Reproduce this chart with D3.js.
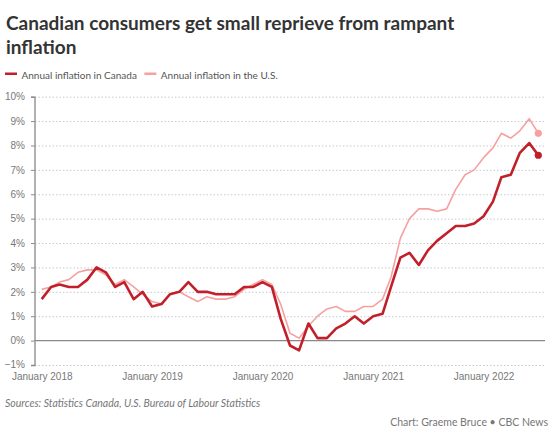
<!DOCTYPE html>
<html>
<head>
<meta charset="utf-8">
<script src="https://cdn.jsdelivr.net/npm/d3@7"></script>
<style>
  body { margin: 0; background: #fff; }
  svg { display: block; font-family: Lato, "Open Sans", sans-serif; }
  .title { font-size: 19px; font-weight: 700; fill: #333; }
  .leg { font-size: 10px; fill: #555; }
  .axis text { font-size: 10px; fill: #777; }
  .src { font-size: 10.5px; font-style: italic; fill: #777; }
  .credit { font-size: 10.5px; fill: #777; }
</style>
</head>
<body>
<div id="chart"></div>
<script>
// monthly year-over-year CPI change, Jan 2018 – Jul 2022
const startMonth = new Date(2018, 0, 1);
const canada = [
  1.7, 2.2, 2.3, 2.2, 2.2, 2.5, 3.0, 2.8, 2.2, 2.4, 1.7, 2.0,
  1.4, 1.5, 1.9, 2.0, 2.4, 2.0, 2.0, 1.9, 1.9, 1.9, 2.2, 2.2,
  2.4, 2.2, 0.9, -0.2, -0.4, 0.7, 0.1, 0.1, 0.5, 0.7, 1.0, 0.7,
  1.0, 1.1, 2.2, 3.4, 3.6, 3.1, 3.7, 4.1, 4.4, 4.7, 4.7, 4.8,
  5.1, 5.7, 6.7, 6.8, 7.7, 8.1, 7.6
];
const us = [
  2.1, 2.2, 2.4, 2.5, 2.8, 2.9, 2.9, 2.7, 2.3, 2.5, 2.2, 1.9,
  1.6, 1.5, 1.9, 2.0, 1.8, 1.6, 1.8, 1.7, 1.7, 1.8, 2.1, 2.3,
  2.5, 2.3, 1.5, 0.3, 0.1, 0.6, 1.0, 1.3, 1.4, 1.2, 1.2, 1.4,
  1.4, 1.7, 2.6, 4.2, 5.0, 5.4, 5.4, 5.3, 5.4, 6.2, 6.8, 7.0,
  7.5, 7.9, 8.5, 8.3, 8.6, 9.1, 8.5
];
const yTicks = [-1, 0, 1, 2, 3, 4, 5, 6, 7, 8, 9, 10];
const xTickYears = [2018, 2019, 2020, 2021, 2022];
const seriesInfo = [
  { label: "Annual inflation in Canada", vals: canada, color: "#c1202b", width: 2.6 },
  { label: "Annual inflation in the U.S.", vals: us, color: "#f7a0a0", width: 1.6 }
];

const W = 553, H = 429;
const months = canada.map((d, i) => d3.timeMonth.offset(startMonth, i));

const svg = d3.select("#chart").append("svg").attr("width", W).attr("height", H);

// title
const title = svg.append("text").attr("class", "title");
title.append("tspan").attr("x", 6).attr("y", 30).text("Canadian consumers get small reprieve from rampant");
title.append("tspan").attr("x", 6).attr("y", 54).text("inflation");

// legend
let lx = 5;
seriesInfo.forEach((s) => {
  svg.append("rect").attr("x", lx).attr("y", 72.5).attr("width", 12).attr("height", 2.5).attr("fill", s.color);
  const t = svg.append("text").attr("class", "leg").attr("x", lx + 16.5).attr("y", 78.5).text(s.label);
  lx += 16.5 + t.node().getComputedTextLength() + 7.5;
});

const x = d3.scaleTime().domain([months[0], months[months.length - 1]]).range([41.7, 538.3]);
const y = d3.scaleLinear().domain([-1, 10]).range([365, 96.7]);
const gridRight = 545;

// gridlines
svg.append("g").selectAll("line").data(yTicks.filter((d) => d !== 0)).join("line")
  .attr("x1", 35).attr("x2", gridRight).attr("y1", (d) => y(d) + 0.5).attr("y2", (d) => y(d) + 0.5)
  .attr("stroke", "#c4cacf").attr("stroke-width", 1).attr("stroke-dasharray", "1.5,2");
svg.append("line")
  .attr("x1", 35).attr("x2", gridRight).attr("y1", y(0)).attr("y2", y(0))
  .attr("stroke", "#888").attr("stroke-width", 1.3);

// y axis
const yAxis = svg.append("g").attr("class", "axis").attr("transform", "translate(34.5,0)")
  .call(d3.axisLeft(y).tickValues(yTicks).tickSize(3.5).tickPadding(6)
    .tickFormat((d) => (d < 0 ? "\u2212" + Math.abs(d) : d) + "%"));
yAxis.select(".domain").attr("stroke", "#888").attr("stroke-width", 1.3);
yAxis.selectAll(".tick line").attr("stroke", "#888");
yAxis.selectAll(".tick text").filter((d) => d < 0).attr("dy", "0.2em");

// x axis labels
const xAxis = svg.append("g").attr("class", "axis").attr("transform", "translate(0,369.5)")
  .call(d3.axisBottom(x).tickValues(xTickYears.map((yr) => new Date(yr, 0, 1)))
    .tickSize(0).tickPadding(3).tickFormat((d) => "January " + d.getFullYear()));
xAxis.select(".domain").remove();

// lines, US underneath
const line = d3.line().x((d, i) => x(months[i])).y((d) => y(d));
[seriesInfo[1], seriesInfo[0]].forEach((s) => {
  svg.append("path").datum(s.vals).attr("d", line)
    .attr("fill", "none").attr("stroke", s.color).attr("stroke-width", s.width)
    .attr("stroke-linejoin", "round");
  const li = s.vals.length - 1;
  svg.append("circle").attr("cx", x(months[li])).attr("cy", y(s.vals[li])).attr("r", 3.6).attr("fill", s.color);
});

// footer
svg.append("text").attr("class", "src").attr("x", 5).attr("y", 407)
  .text("Sources: Statistics Canada, U.S. Bureau of Labour Statistics");
svg.append("text").attr("class", "credit").attr("x", 548).attr("y", 426).attr("text-anchor", "end")
  .text("Chart: Graeme Bruce \u2022 CBC News");
</script>
</body>
</html>
